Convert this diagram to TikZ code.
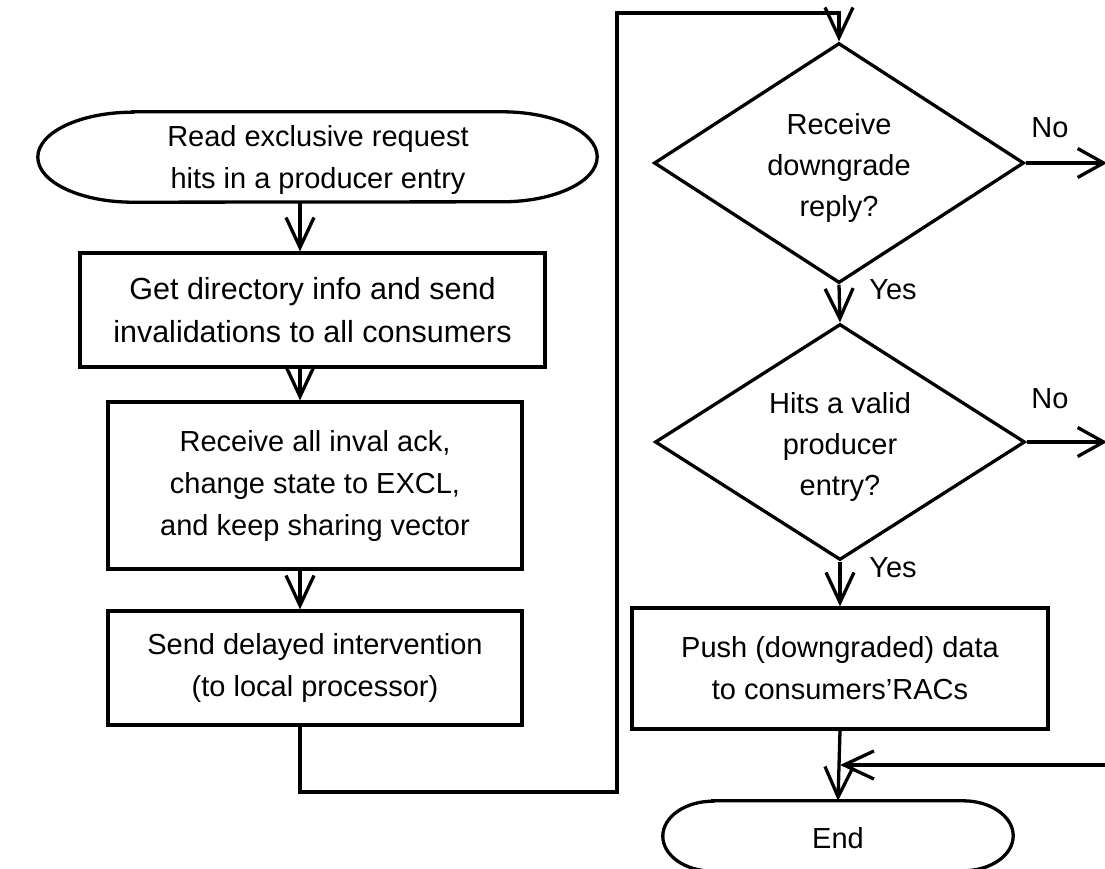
\documentclass[tikz,border=0pt]{standalone}
\usepackage{fontspec}
\setmainfont{Liberation Sans}
\usetikzlibrary{arrows.meta,shapes.geometric}
\begin{document}
\begin{tikzpicture}[x=1pt,y=-1pt,
  every node/.style={font=\fontsize{29}{42}\selectfont, align=center},
  wire/.style={line width=3.3pt, draw=black},
  link/.style={wire, -{Straight Barb[length=30pt,width=28pt]}},
  shortlink/.style={wire, -{Straight Barb[length=26pt,width=29pt]}},
  procbox/.style={wire, rectangle, inner sep=0pt},
  decide/.style={wire, diamond, inner sep=0pt},
  asktext/.style={font=\fontsize{29}{41}\selectfont, inner sep=0pt},
  termholder/.style={rectangle, inner sep=0pt},
  tag/.style={inner sep=0pt}
]
\useasboundingbox[fill=white] (0,0) rectangle (1105,869);

% ---- left column ----
\node[termholder, minimum width=559pt, minimum height=90pt] (start) at (317.5,157) {};
\node[tag] (starttext) at (318,160) {Read exclusive request\\hits in a producer entry};
\draw[wire] ([xshift=95pt]start.north west) -- ([xshift=-95pt]start.north east)
  arc[start angle=90, end angle=-90, x radius=95pt, y radius=45pt]
  -- ([xshift=95pt]start.south west)
  arc[start angle=270, end angle=90, x radius=95pt, y radius=45pt] -- cycle;

\node[procbox, minimum width=465pt, minimum height=114pt,
      font=\fontsize{30.5}{43}\selectfont] (b1) at (312.5,310)
  {Get directory info and send\\invalidations to all consumers};
\node[procbox, minimum width=414pt, minimum height=167pt] (b2) at (315,485.5)
  {Receive all inval ack,\\change state to EXCL,\\and keep sharing vector};
\node[procbox, minimum width=414pt, minimum height=114pt] (b3) at (315,668)
  {Send delayed intervention\\(to local processor)};

\coordinate (spine) at (300,0);
\coordinate (loopB) at (617,792);
\coordinate (loopT) at (617,13);

\draw[link] (start.south -| spine) -- (b1.north -| spine);
\draw[link] (b1.south -| spine) -- (b2.north -| spine);
\draw[link] (b2.south -| spine) -- (b3.north -| spine);

% ---- right column ----
\node[decide, minimum width=370pt, minimum height=240pt] (d1) at (839,163) {};
\node[asktext] (d1text) at (839,168) {Receive\\downgrade\\reply?};
\node[decide, minimum width=370pt, minimum height=236pt] (d2) at (840,442) {};
\node[asktext] (d2text) at (840,447) {Hits a valid\\producer\\entry?};
\node[procbox, minimum width=416pt, minimum height=121pt] (b4) at (840,668.5)
  {Push (downgraded) data\\to consumers'RACs};

\node[termholder, minimum width=350pt, minimum height=70pt] (stop) at (838,836) {};
\node[tag] (stoptext) at (838,838) {End};
\draw[wire] ([xshift=50pt]stop.north west) -- ([xshift=-50pt]stop.north east)
  arc[start angle=90, end angle=-90, x radius=50pt, y radius=35pt]
  -- ([xshift=50pt]stop.south west)
  arc[start angle=270, end angle=90, x radius=50pt, y radius=35pt] -- cycle;

% loop from the left column into the first decision
\draw[link] (b3.south -| spine) |- (loopB) -- (loopT) -| (d1.north);

\coordinate (no1) at (1107,163);
\coordinate (no2) at (1107,442);
\coordinate (back) at (1110,765);

\draw[shortlink] (d1.east) -- (no1);
\draw[shortlink] (d2.east) -- (no2);
\draw[link] (d1.south) -- (d2.north);
\draw[link] (d2.south) -- (b4.north);
\draw[link] (b4.south) -- (stop.north);
\draw[link] (back) -- (back -| b4.south);

\node[tag] (lno1) at (1050,128) {No};
\node[tag] (lno2) at (1050,399) {No};
\node[tag] (lyes1) at (893,290) {Yes};
\node[tag] (lyes2) at (893,568) {Yes};
\end{tikzpicture}
\end{document}
